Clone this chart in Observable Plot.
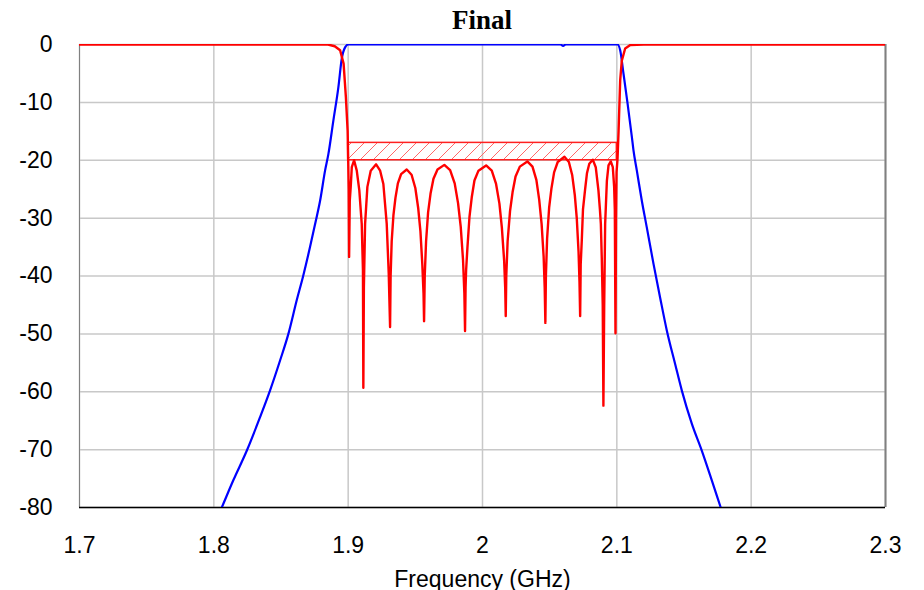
<!DOCTYPE html>
<html>
<head>
<meta charset="utf-8">
<script src="https://cdn.jsdelivr.net/npm/d3@7"></script>
<script src="https://cdn.jsdelivr.net/npm/@observablehq/plot@0.6"></script>
<style>
  html, body { margin: 0; padding: 0; background: #fff; }
  #wrap { position: relative; width: 924px; height: 590px; }
  #title { position: absolute; left: 382px; width: 200px; top: 5px; text-align: center; z-index: 2;
           font-family: "Liberation Serif", "Times New Roman", serif; font-weight: bold; font-size: 27px; color: #000; }
</style>
</head>
<body>
<div id="wrap"><div id="title">Final</div></div>
<script>
// ---- data ----
const xTicks = [1.7, 1.8, 1.9, 2.0, 2.1, 2.2, 2.3];
const xTickLabels = ["1.7", "1.8", "1.9", "2", "2.1", "2.2", "2.3"];
const yTicks = [0, -10, -20, -30, -40, -50, -60, -70, -80];
const xLabel = "Frequency (GHz)";

// S21 (blue)
const freqBlue = [1.80, 1.8059, 1.8145, 1.8245, 1.8344, 1.8418, 1.8493, 1.8555, 1.8617, 1.8666, 1.8716, 1.8754, 1.8791, 1.8828,
  1.8853, 1.889, 1.8927, 1.8952, 1.8977, 1.9001, 2.058, 2.060, 2.062, 2.1005, 2.1025, 2.105, 2.108, 2.1112,
  2.1124, 2.1149, 2.1186, 2.1223, 2.1273, 2.1322, 2.1372, 2.1434, 2.1484, 2.1558, 2.1633, 2.1707, 2.1769, 2.18];
const s21 = [-83.2, -80.0, -75.3, -70.2, -64.4, -59.8, -54.6, -50.0, -44.2, -39.9, -35.0, -31.0, -27.0, -21.8,
  -18.9, -13.1, -7.4, -2.5, -0.5, 0, 0, -0.25, 0, 0, -1.0, -5.1, -10.2, -16.0,
  -18.3, -21.8, -27.0, -31.6, -37.9, -43.7, -49.4, -55.2, -59.8, -65.5, -70.2, -75.3, -79.7, -81.9];

// S11 (red)
const freqRed = [1.7, 1.885, 1.89, 1.894, 1.8966, 1.8983, 1.8996, 1.9, 1.9004, 1.9007,
  1.9012, 1.9019, 1.9027, 1.9044, 1.9064, 1.9083, 1.9101, 1.9110, 1.9113,
  1.9117, 1.9126, 1.9143, 1.9168, 1.9208, 1.9238, 1.9262, 1.9287, 1.9302, 1.9312,
  1.9316, 1.9324, 1.9337, 1.9352, 1.9370, 1.9394, 1.9436, 1.9472, 1.9500, 1.9521, 1.9538, 1.9552, 1.9561, 1.9565,
  1.9570, 1.9580, 1.9595, 1.9613, 1.9635, 1.9665, 1.9716, 1.9759, 1.9793, 1.9818, 1.9838, 1.9855, 1.9865, 1.9870,
  1.9874, 1.9878, 1.9888, 1.9903, 1.9920, 1.9940, 1.9970, 2.0027, 2.0069, 2.0101, 2.0126, 2.0144, 2.0161, 2.0169, 2.0173,
  2.0177, 2.0187, 2.0205, 2.0224, 2.0246, 2.0278, 2.0334, 2.0372, 2.0401, 2.0422, 2.0440, 2.0455, 2.0463, 2.0468,
  2.0472, 2.0481, 2.0496, 2.0513, 2.0533, 2.0560, 2.0610, 2.0643, 2.0668, 2.0687, 2.0702, 2.0715, 2.0722, 2.0727,
  2.0731, 2.0739, 2.0748, 2.0764, 2.0778, 2.0795, 2.0821, 2.0843, 2.0863, 2.0874, 2.0881, 2.0888, 2.0895, 2.0900,
  2.0906, 2.0913, 2.0926, 2.0938, 2.0955, 2.0970, 2.0980, 2.0985, 2.0990,
  2.0994, 2.0998, 2.1005, 2.1013, 2.1025, 2.1037, 2.1062, 2.1100, 2.1200, 2.3];
const s11 = [0, 0, -0.3, -1.0, -3.3, -9.1, -14.9, -19.7, -25, -36.7,
  -27, -24.6, -21.2, -20.0, -21.8, -25.2, -31.0, -39, -59.3,
  -42, -31.0, -24.6, -21.8, -20.7, -21.8, -24.1, -31.0, -39.6, -48.8,
  -40, -34, -29.5, -26.5, -24, -22.4, -21.6, -22.5, -24.8, -28.2, -32.3, -38, -43, -47.8,
  -40, -34, -29, -25.8, -23.2, -21.6, -20.8, -21.7, -24, -27.4, -31.5, -37.2, -43, -49.5,
  -42, -39.0, -35.0, -29.8, -26.4, -23.5, -21.8, -20.9, -21.8, -24.1, -27.5, -31.6, -37.3, -42, -46.9,
  -40, -34, -28.8, -25.5, -22.8, -21.1, -20.2, -21.1, -23.4, -26.8, -31, -36.6, -42, -48.1,
  -40, -33.5, -28.2, -24.9, -22.1, -20.3, -19.4, -20.3, -22.6, -26, -30.1, -35.8, -41, -46.9,
  -38, -33.9, -28.5, -25.0, -22.2, -20.6, -19.9, -21.2, -25.2, -28.5, -31.0, -37, -45, -62.4,
  -45, -31, -23.5, -20.9, -20.2, -21.2, -24.6, -28.6, -49.9,
  -30, -22, -19.8, -14.9, -6.2, -2.8, -0.7, -0.1, 0, 0];

// return-loss goal (hatched box)
const maskX = [1.9, 2.1];
const maskY = [-20, -17];

// ---- build tables ----
const blue = freqBlue.map((f, i) => ({f, v: s21[i]}));
const red = freqRed.map((f, i) => ({f, v: s11[i]}));
const mask = [{x1: maskX[0], x2: maskX[1], y1: maskY[0], y2: maskY[1]}];

const chart = Plot.plot({
  width: 924,
  height: 590,
  marginTop: 44,
  marginBottom: 83,
  marginLeft: 79,
  marginRight: 39,
  style: {fontFamily: "'Liberation Sans', Arial, sans-serif", fontSize: "23px", color: "#000", background: "#fff", overflow: "visible"},
  x: {domain: [xTicks[0], xTicks[xTicks.length - 1]]},
  y: {domain: [yTicks[yTicks.length - 1], yTicks[0]]},
  marks: [
    Plot.gridX(xTicks, {stroke: "#c8c8c8", strokeOpacity: 1, strokeWidth: 1.5}),
    Plot.gridY(yTicks, {stroke: "#c8c8c8", strokeOpacity: 1, strokeWidth: 1.5}),
    Plot.axisX(xTicks, {tickSize: 0, tickPadding: 29, tickFormat: (d, i) => xTickLabels[i],
      label: xLabel, labelAnchor: "center", labelArrow: "none", labelOffset: 79, fontSize: 23}),
    Plot.axisY(yTicks, {tickSize: 0, tickPadding: 27, tickFormat: d => String(d), label: null, fontSize: 23}),
    Plot.ruleX([xTicks[0]], {stroke: "#808080", strokeWidth: 1}),
    Plot.ruleX([xTicks[xTicks.length - 1]], {stroke: "#808080", strokeWidth: 2}),
    Plot.ruleY([yTicks[yTicks.length - 1]], {stroke: "#000", strokeWidth: 1.5}),
    Plot.rect(mask, {x1: "x1", x2: "x2", y1: "y1", y2: "y2", fill: "url(#hatch)", stroke: "#ff2020", strokeWidth: 1.5}),
    Plot.line(blue, {x: "f", y: "v", stroke: "#0000ff", strokeWidth: 2.2, curve: "monotone-x", clip: true}),
    Plot.line(red, {x: "f", y: "v", stroke: "#ff0000", strokeWidth: 2.4, clip: true})
  ]
});

const ns = "http://www.w3.org/2000/svg";
const defs = document.createElementNS(ns, "defs");
defs.innerHTML = '<pattern id="hatch" patternUnits="userSpaceOnUse" width="13" height="13">' +
  '<path d="M-2,2 L2,-2 M0,13 L13,0 M11,15 L15,11" stroke="#ff6a6a" stroke-width="1"/></pattern>';
chart.insertBefore(defs, chart.firstChild);
chart.style.position = "absolute";
chart.style.left = "0";
chart.style.top = "0";
chart.style.zIndex = "1";
document.getElementById("wrap").appendChild(chart);
</script>
</body>
</html>
